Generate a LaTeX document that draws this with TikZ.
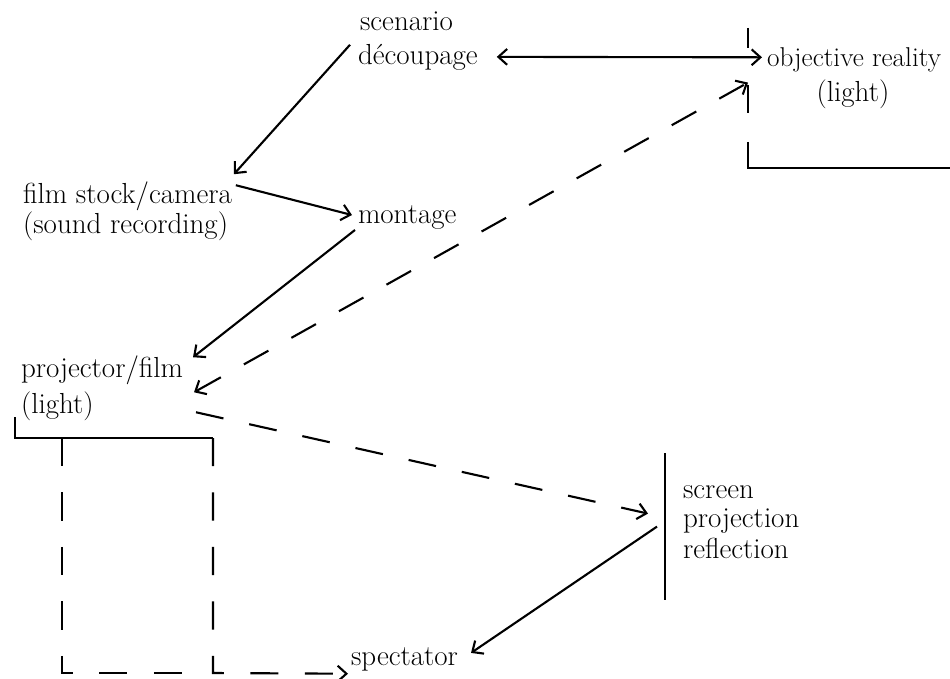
\documentclass[tikz,border=0pt]{standalone}
\usepackage{tikz}
\usetikzlibrary{arrows.meta}

\begin{document}
\begin{tikzpicture}[x=0.02cm, y=-0.02cm, line width=1.2pt, >={Straight Barb[length=5pt,width=9pt]},
    lbl/.style = {inner sep=0, anchor=base west, font=\fontsize{16.5}{19}\selectfont},
    dashline/.style = {dash pattern=on 16pt off 15pt}]
    \useasboundingbox (0,0) rectangle (950,679);
    \node[lbl] (scen) at (359,31) {scenario};
    \node[lbl] (dec) at (357,65) {découpage};
    \node[lbl, font=\fontsize{15.5}{19}\selectfont] (obj) at (766,67) {objective reality};
    \node[lbl, anchor=base] (objl) at (853,102) {(light)};
    \node[lbl] (cam) at (22,203) {film stock/camera};
    \node[lbl] (snd) at (22,233) {(sound recording)};
    \node[lbl] (mont) at (357,223) {montage};
    \node[lbl] (proj) at (20,377) {projector/film};
    \node[lbl] (projl) at (20,413) {(light)};
    \node[lbl] (scr) at (682,498) {screen};
    \node[lbl] (scrp) at (682,527) {projection};
    \node[lbl] (scrr) at (682,558) {reflection};
    \node[lbl] (spec) at (350,665) {spectator};
    \draw (748,28) -- (748,48);
    \draw (748,85) -- (748,113);
    \draw (748,142) -- (748,168) -- (950,168);
    \draw (15,417) -- (15,438) -- (213,438);
    \draw[line width=1.6pt] (665,453) -- (665,600);
    \draw[<->] ([shift={(18,-1)}]dec.east) -- ([shift={(-4,-3)}]obj.west);
    \draw[->] ([shift={(-7,1)}]dec.north west) -- ([shift={(1,-6)}]cam.north east);
    \draw[->] ([shift={(3,5)}]cam.north east) -- ([shift={(-5,-2)}]mont.west);
    \draw[->] ([shift={(-2,0)}]mont.south west) -- ([shift={(9,3)}]proj.north east);
    \draw[<->, dashline] ([shift={(10,7)}]proj.south east) -- ([shift={(-18,9)}]obj.south west);
    \draw[->, dashline] ([shift={(12,27)}]proj.south east) -- ([shift={(-34,-7)}]scrp.west);
    \draw[->] ([shift={(-25,6)}]scrp.west) -- ([shift={(12,-6)}]spec.east);
    \draw[dashline] (62,438) -- (62,673) -- (195,673);
    \draw[->, dashline] (213,438) -- (213,673) -- ([shift={(-2,2)}]spec.south west);
\end{tikzpicture}
\end{document}
